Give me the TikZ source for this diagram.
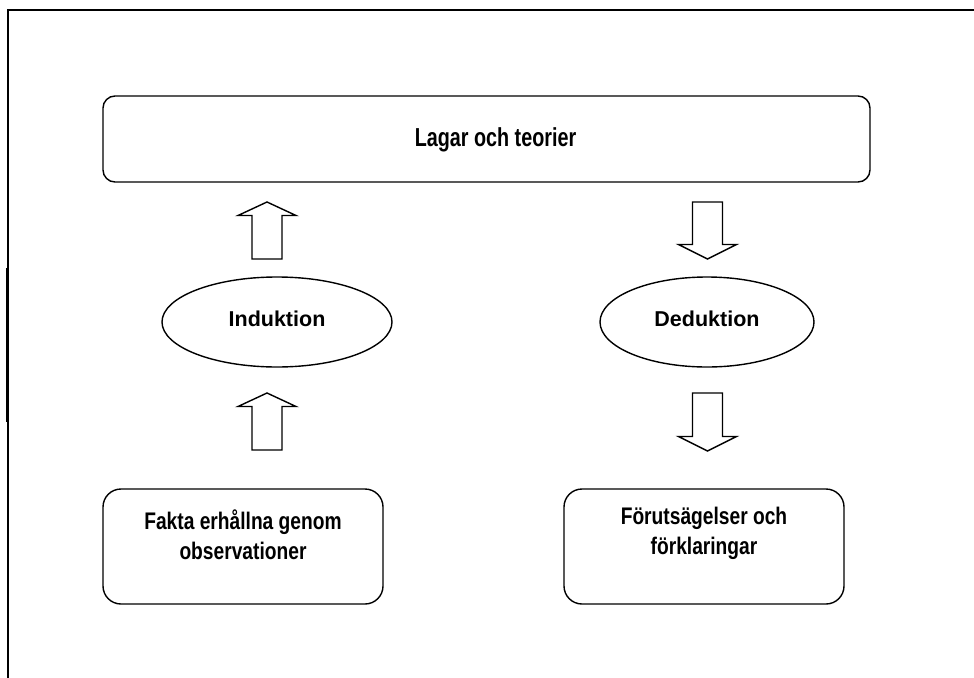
\documentclass[tikz,border=0pt]{standalone}
\usepackage{fontspec}
\setmainfont{Liberation Sans}
\newfontfamily\bigfont[FakeStretch=0.76]{Liberation Sans}
\newfontfamily\botfont[FakeStretch=0.80]{Liberation Sans}
\usetikzlibrary{shapes.geometric}
\tikzset{
  frameline/.style={line width=2pt, line cap=rect},
  boxline/.style={draw, line width=1.4pt},
  topbox/.style={boxline, rounded corners=12pt, minimum width=767pt, minimum height=86pt, inner sep=0pt},
  toptext/.style={inner sep=0pt, font=\bigfont\bfseries\fontsize{26}{30}\selectfont},
  botbox/.style={boxline, rounded corners=18pt, minimum width=280pt, minimum height=115pt, inner sep=0pt},
  bottext/.style={inner sep=0pt, align=center, font=\botfont\bfseries\fontsize{24}{30.5}\selectfont},
  oval/.style={boxline, ellipse, inner sep=0pt},
  ovaltext/.style={inner sep=0pt, font=\bfseries\fontsize{21.5}{25}\selectfont},
  blockarrow/.style={draw, line width=1.4pt, fill=white, line join=miter}
}
\begin{document}
\begin{tikzpicture}[x=1pt,y=-1pt]
\useasboundingbox (0,0) rectangle (974,677);
% frame
\draw[frameline] (974,10) -- (8,10) -- (8,677);
\draw[line width=1.5pt] (6.3,268) -- (6.3,422);
% boxes
\node[topbox] (lagar) at (486.5,139) {};
\node[toptext] (lagart) at ([xshift=9pt,yshift=-1pt]lagar.center) {Lagar och teorier};
\node[oval, minimum width=230pt, minimum height=90pt] (ind) at (277,322) {};
\node[ovaltext] (indt) at ([yshift=3pt]ind.center) {Induktion};
\node[oval, minimum width=214pt, minimum height=90pt] (ded) at (707,322) {};
\node[ovaltext] (dedt) at ([yshift=3pt]ded.center) {Deduktion};
\node[botbox] (fakta) at (243,546.5) {};
\node[bottext] (faktat) at ([yshift=12pt]fakta.center) {Fakta erhållna genom\\observationer};
\node[botbox] (forut) at (704,546.5) {};
\node[bottext] (forutt) at ([yshift=13pt]forut.center) {Förutsägelser och\\förklaringar};
% block arrows (up)
\coordinate (u1) at (267,202);
\coordinate (u2) at (267,393);
\foreach \c in {u1,u2}{
  \draw[blockarrow] (\c) -- ++(29,13.5) -- ++(-14,0) -- ++(0,43.5) -- ++(-30,0) -- ++(0,-43.5) -- ++(-14,0) -- cycle;
}
% block arrows (down)
\coordinate (d1) at (707.5,259);
\coordinate (d2) at (707.5,451);
\draw[blockarrow] (d1) -- ++(29,-14.5) -- ++(-14,0) -- ++(0,-42.5) -- ++(-30,0) -- ++(0,42.5) -- ++(-14,0) -- cycle;
\draw[blockarrow] (d2) -- ++(29,-14.5) -- ++(-14,0) -- ++(0,-43.5) -- ++(-30,0) -- ++(0,43.5) -- ++(-14,0) -- cycle;
\end{tikzpicture}
\end{document}
